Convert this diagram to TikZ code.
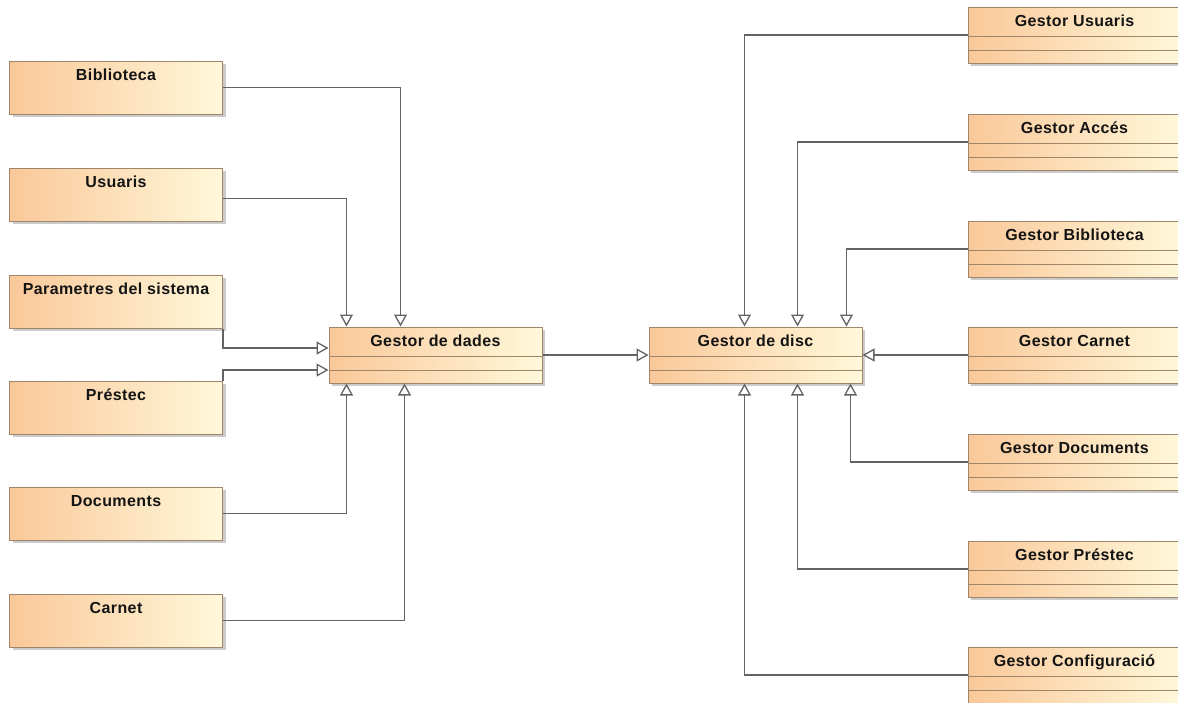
\documentclass[tikz,border=0pt]{standalone}
\usepackage{fontspec}
\newfontfamily\umlfont[LetterSpace=2.5]{Liberation Sans}
\usepackage{tikz}
\usetikzlibrary{arrows.meta,shadows}
\definecolor{boxL}{HTML}{FAC899}
\definecolor{boxR}{HTML}{FFF8DA}
\definecolor{boxline}{HTML}{A08668}
\definecolor{conn}{HTML}{636363}

\begin{document}
\begin{tikzpicture}[x=1pt,y=-1pt,cls/.style={rectangle,draw=boxline,line width=1pt,left color=boxL,right color=boxR,minimum width=213pt,inner xsep=0pt,inner ysep=0pt,text height=19pt,text depth=34pt,text=black!92,font=\umlfont\bfseries\fontsize{16}{19}\selectfont,drop shadow={shadow xshift=3pt,shadow yshift=-3pt,fill=black!45,opacity=0.45}},gest/.style={cls,text depth=37pt,path picture={\draw[boxline,line width=1pt] ([yshift=-29pt]path picture bounding box.north west) -- ([yshift=-29pt]path picture bounding box.north east) ([yshift=-43pt]path picture bounding box.north west) -- ([yshift=-43pt]path picture bounding box.north east);}},gen/.style={draw=conn,line width=1.3pt,-{Triangle[open,length=12pt,width=13pt]}}]
\useasboundingbox (0,0) rectangle (1178,702);
\foreach \n/\y/\t in %
{bib/87.5/Biblioteca,usu/194.5/Usuaris,par/301.5/Parametres del sistema,pre/407.5/Préstec,doc/513.5/Documents,car/620.5/Carnet} {
   \node[cls] (\n) at (116,\y) {\t};
}
\node[gest] (dades) at (435.5,355) {Gestor de dades};
\node[gest] (disc) at (755.5,355) {Gestor de disc};
\foreach \n/\y/\t in %
{gusu/35/Gestor Usuaris,gacc/142/Gestor Accés,gbib/249/Gestor Biblioteca,gcar/355/Gestor Carnet,gdoc/462/Gestor Documents,gpre/569/Gestor Préstec,gcon/675/Gestor Configuració} {
   \node[gest] (\n) at (1074.5,\y) {\t};
}
\draw[gen] (bib.east) -| ([xshift=-35pt]dades.north);
\draw[gen] ([yshift=-4pt]usu.east) -| ([xshift=-89pt]dades.north);
\draw[gen] (par.south east) |- ([yshift=7pt]dades.west);
\draw[gen] (pre.north east) |- ([yshift=-15pt]dades.west);
\draw[gen] (doc.east) -| ([xshift=-89pt]dades.south);
\draw[gen] (car.east) -| ([xshift=-31pt]dades.south);
\draw[gen] (dades.east) -- (disc.west);
\foreach \n/\s in %
{gusu/-11,gacc/42,gbib/91} {
   \draw[gen] (\n.west) -| ([xshift=\s pt]disc.north);
}
\draw[gen] (gcar.west) -- (disc.east);
\foreach \n/\s in %
{gdoc/95,gpre/42,gcon/-11} {
   \draw[gen] (\n.west) -| ([xshift=\s pt]disc.south);
}
\end{tikzpicture}
\end{document}
